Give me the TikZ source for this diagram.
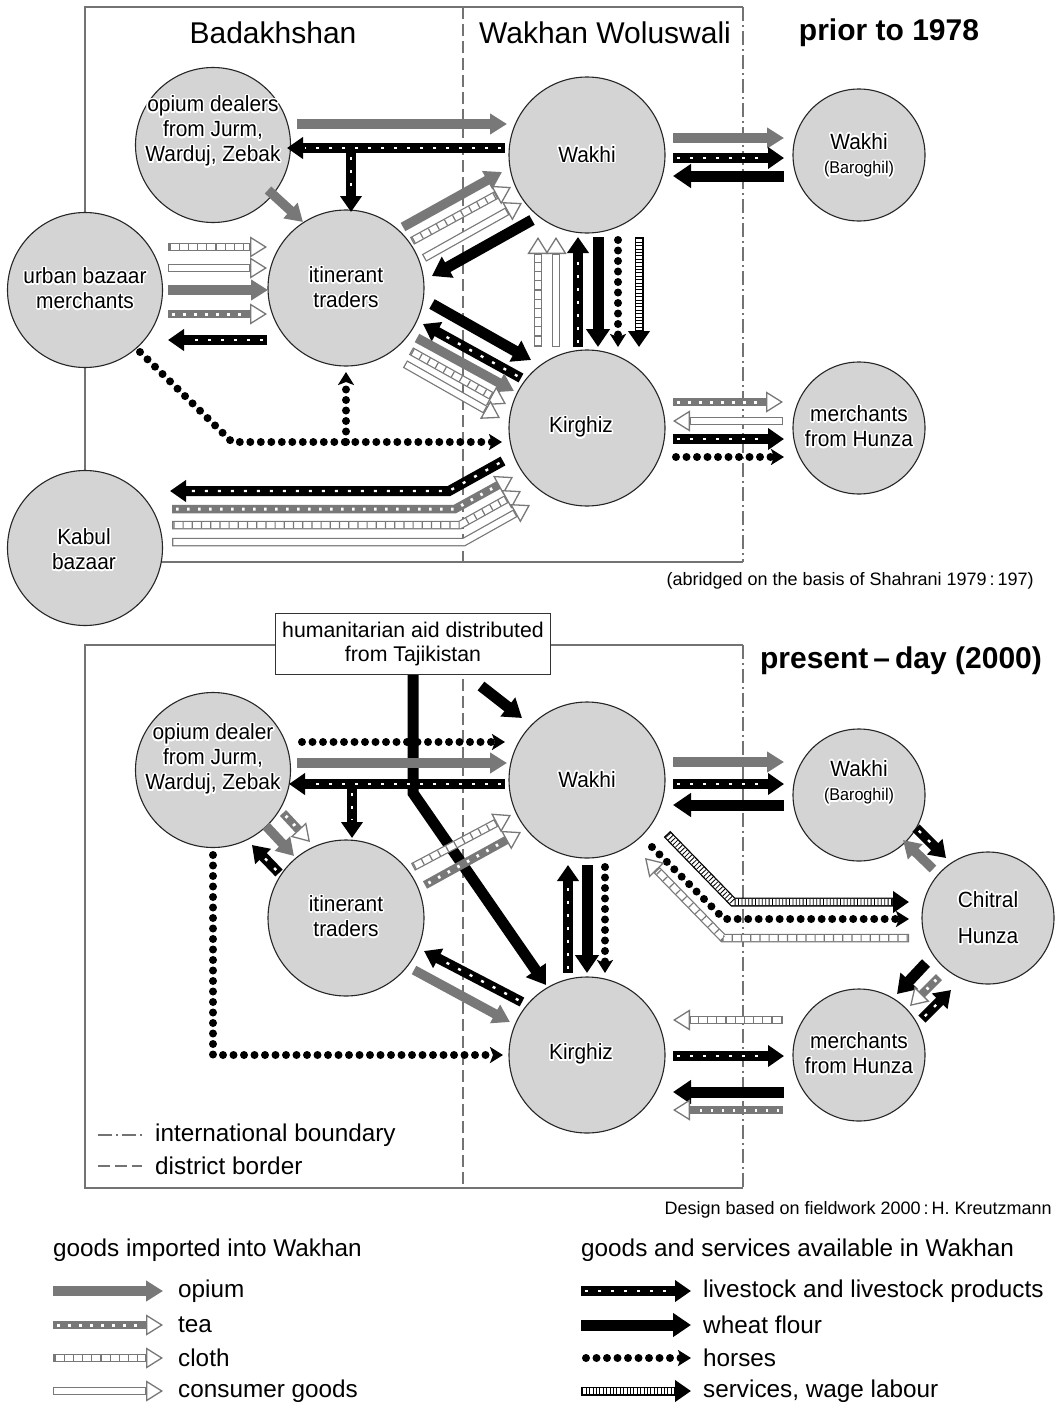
\documentclass[tikz,border=0pt]{standalone}
\usepackage{fontspec}
\setmainfont{Liberation Sans}
\newfontfamily\nar[FakeStretch=0.95]{Liberation Sans}
\usepackage{contour}
\contourlength{1.5pt}
\usetikzlibrary{arrows.meta}
\definecolor{opg}{gray}{0.47}
\definecolor{circf}{gray}{0.83}
\definecolor{frm}{gray}{0.45}
\newcommand\cw[1]{\contour{white}{#1}}
\begin{document}
\begin{tikzpicture}[x=1pt,y=-1pt,
  circ/.style={circle, draw=black!85, line width=1.1pt, fill=circf, inner sep=0pt, outer sep=0pt},
  lbl/.style={font=\nar\fontsize{22}{25}\selectfont, align=center, inner sep=0pt},
  ttl/.style={font=\fontsize{30}{34}\selectfont, inner sep=0pt},
  leg/.style={font=\fontsize{24.3}{27}\selectfont, inner sep=0pt, anchor=west},
  frame/.style={draw=frm, line width=1.1pt},
  intb/.style={draw=frm, line width=1.1pt, dash pattern=on 14pt off 4pt on 2pt off 4pt},
  distb/.style={draw=frm, line width=1.1pt, dash pattern=on 12pt off 5pt},
  opium/.style={draw=opg, line width=9.5pt, -{Triangle[length=17pt,width=20pt]}},
  tea/.style={draw=opg, line width=8.5pt, -{Triangle[length=17pt,width=21pt,fill=white,line width=1.3pt]},
     postaction={draw=white, -, solid, line width=3pt, dash pattern=on 2.5pt off 8.5pt, shorten >=20pt, shorten <=4pt}},
  consumer/.style={draw=opg, line width=8.5pt, -{Triangle[length=17pt,width=21pt,fill=white,line width=1.3pt]},
     postaction={draw=white, -, solid, line width=6pt, shorten >=18pt, shorten <=1.3pt}},
  cloth/.style={consumer, postaction={draw=opg, -, line width=6.2pt, dash pattern=on 1.2pt off 8pt, shorten >=18pt, shorten <=1.3pt}},
  stock/.style={draw=black, line width=10pt, -{Triangle[length=16pt,width=21pt]},
     postaction={draw=white, -, solid, line width=2.4pt, dash pattern=on 3pt off 10pt, shorten >=18pt, shorten <=4pt}},
  wheat/.style={draw=black, line width=11pt, -{Triangle[length=18pt,width=23pt]}},
  horse/.style={draw=black, line width=8pt, line cap=round, dash pattern=on 0pt off 10.5pt, -{Stealth[length=13pt,width=16pt,inset=3pt]}},
  serv/.style={draw=black, line width=9pt, -{Triangle[length=16pt,width=21pt]},
     postaction={draw=white, -, solid, line width=6.4pt, shorten >=17pt, shorten <=1.3pt},
     postaction={draw=black, -, line width=6.4pt, dash pattern=on 0.8pt off 2.6pt, shorten >=17pt, shorten <=1.3pt}}
]
\fill[white] (0,0) rectangle (1059,1408);
\useasboundingbox (0,0) rectangle (1059,1408);

% ---------------- frames ----------------
\draw[frame] (743,7) -- (85,7) -- (85,562) -- (743,562);
\draw[intb] (743,7) -- (743,562);
\draw[distb] (463,7) -- (463,562);
\draw[frame] (743,645) -- (85,645) -- (85,1188) -- (743,1188);
\draw[intb] (743,645) -- (743,1188);
\draw[distb] (463,645) -- (463,1188);

% ---------------- titles ----------------
\node[ttl] (t1) at (273,33) {Badakhshan};
\node[ttl] (t2) at (605,33) {Wakhan Woluswali};
\node[ttl, font=\fontsize{30}{34}\selectfont\bfseries] (t3) at (889,33) {prior to 1978};
\node[inner sep=0pt, anchor=east, font=\fontsize{18}{21}\selectfont] (src1) at (1034,581) {(abridged on the basis of Shahrani 1979\,:\,197)};
\node[ttl, font=\fontsize{30}{34}\selectfont\bfseries] (t4) at (901,661) {present\,--\,day (2000)};
\node[inner sep=0pt, anchor=east, font=\fontsize{18}{21}\selectfont] (src2) at (1052,1210) {Design based on fieldwork 2000\,:\,H. Kreutzmann};

% ---------------- circles (top) ----------------
\node[circ, minimum size=155pt] (od1) at (213,145) {};
\node[circ, minimum size=156pt] (wk1) at (587,155) {};
\node[circ, minimum size=132pt] (bg1) at (859,155) {};
\node[circ, minimum size=155pt] (ub1) at (85,290) {};
\node[circ, minimum size=156pt] (it1) at (346,288) {};
\node[circ, minimum size=156pt] (kg1) at (587,428) {};
\node[circ, minimum size=132pt] (mh1) at (859,428) {};
\node[circ, minimum size=155pt] (kb1) at (85,548) {};

% ---------------- circles (bottom) ----------------
\node[circ, minimum size=155pt] (od2) at (213,770) {};
\node[circ, minimum size=156pt] (wk2) at (587,780) {};
\node[circ, minimum size=132pt] (bg2) at (859,795) {};
\node[circ, minimum size=132pt] (ch2) at (988,918) {};
\node[circ, minimum size=156pt] (it2) at (346,918) {};
\node[circ, minimum size=156pt] (kg2) at (587,1055) {};
\node[circ, minimum size=132pt] (mh2) at (859,1055) {};

% humanitarian box
\node[draw=black!80, line width=1.1pt, fill=white, minimum width=275pt, minimum height=61pt, align=center,
      font=\fontsize{21.3}{24.5}\selectfont, inner sep=0pt] (hum) at (413,644)
      {humanitarian aid distributed\\from Tajikistan};

% ================= top arrows =================
\draw[opium] (297,124) -- (507,124);
\draw[stock] (351,153) -- (351,212);
\draw[stock] (505,148) -- (287,148);
\draw[opium] (268,190) -- (303,222);
% urban -> traders
\draw[cloth] (168,247) -- (267,247);
\draw[consumer] (168,268) -- (267,268);
\draw[opium] (168,290) -- (268,290);
\draw[tea] (168,314) -- (267,314);
\draw[stock] (267,340) -- (168,340);
% traders <-> Wakhi
\draw[opium] (403,227) -- (502,172);
\draw[cloth] (412,241) -- (511,187);
\draw[consumer] (424,258) -- (522,203);
\draw[wheat] (532,220) -- (432,276);
% traders <-> Kirghiz
\draw[wheat] (432,304) -- (531,360);
\draw[stock] (521,378) -- (423,324);
\draw[opium] (417,338) -- (514,391);
\draw[cloth] (411,351) -- (506,404);
\draw[consumer] (405,364) -- (500,418);
% Wakhi <-> Kirghiz
\draw[cloth] (538,347) -- (538,237);
\draw[consumer] (556,347) -- (556,237);
\draw[stock] (578,347) -- (578,237);
\draw[wheat] (598,237) -- (598,347);
\draw[horse] (618,240) -- (618,347);
\draw[serv] (639,237) -- (639,347);
% Wakhi <-> Baroghil
\draw[opium] (673,138) -- (784,138);
\draw[stock] (673,158) -- (784,158);
\draw[wheat] (784,176) -- (673,176);
% Kirghiz <-> merchants from Hunza
\draw[tea] (673,402) -- (783,402);
\draw[consumer] (783,421) -- (673,421);
\draw[stock] (673,439) -- (784,439);
\draw[horse] (676,457) -- (784,457);
% horses from urban bazaar
\draw[horse] (140,352) -- (232,442) -- (502,442);
\draw[horse] (346,442) -- (346,372);
% Kabul bazaar
\draw[stock] (503,461) -- (449,491) -- (170,491);
\draw[tea] (172,509) -- (455,509) -- (513,477);
\draw[cloth] (172,525) -- (460,525) -- (521,491);
\draw[consumer] (172,542) -- (464,542) -- (530,505);

% ================= bottom arrows =================
\draw[wheat] (hum.south -| 413,0) -- (413,793) -- (546,985);
\draw[wheat] (481,686) -- (522,718);
\draw[horse] (302,742) -- (505,742);
\draw[opium] (297,763) -- (507,763);
\draw[stock] (352,789) -- (352,838);
\draw[stock] (505,784) -- (289,784);
% dealer <-> traders
\draw[opium] (266,826) -- (294,856);
\draw[tea] (283,813) -- (310,842);
\draw[stock] (279,873) -- (252,845);
% traders -> Wakhi
\draw[cloth] (413,867) -- (511,815);
\draw[tea] (425,885) -- (521,832);
% Kirghiz <-> traders
\draw[stock] (522,1002) -- (424,951);
\draw[opium] (414,970) -- (510,1022);
% Wakhi <-> Kirghiz
\draw[stock] (568,973) -- (568,865);
\draw[wheat] (587,865) -- (587,973);
\draw[horse] (605,867) -- (605,973);
% Wakhi <-> Baroghil
\draw[opium] (673,762) -- (784,762);
\draw[stock] (673,784) -- (784,784);
\draw[wheat] (784,805) -- (673,805);
% Wakhi <-> Chitral
\draw[serv] (667,834) -- (733,902) -- (909,902);
\draw[horse] (652,847) -- (724,919) -- (909,919);
\draw[cloth] (909,938) -- (723,938) -- (645,858);
% Baroghil <-> Chitral
\draw[stock] (916,828) -- (946,858);
\draw[opium] (933,869) -- (903,840);
% Chitral <-> merchants
\draw[wheat] (926,963) -- (897,994);
\draw[tea] (939,977) -- (910,1006);
\draw[stock] (922,1019) -- (951,990);
% merchants <-> Kirghiz
\draw[cloth] (783,1020) -- (673,1020);
\draw[stock] (673,1056) -- (784,1056);
\draw[wheat] (784,1092) -- (673,1092);
\draw[tea] (783,1110) -- (673,1110);
% horses from dealer
\draw[horse] (213,855) -- (213,1055) -- (503,1055);

% ---------------- circle labels ----------------
\node[lbl] (od1t) at (213,132) {\cw{opium dealers}\\\cw{from Jurm,}\\\cw{Warduj, Zebak}};
\node[lbl] (wk1t) at (587,155) {\cw{Wakhi}};
\node[lbl] (bg1t) at (859,142) {\cw{Wakhi}};
\node[lbl, font=\nar\fontsize{17}{20}\selectfont] (bg1s) at (859,170) {\cw{(Baroghil)}};
\node[lbl] (ub1t) at (85,289) {\cw{urban bazaar}\\\cw{merchants}};
\node[lbl] (it1t) at (346,288) {\cw{itinerant}\\\cw{traders}};
\node[lbl] (kg1t) at (581,428) {\cw{Kirghiz}};
\node[lbl] (mh1t) at (859,427) {\cw{merchants}\\\cw{from Hunza}};
\node[lbl] (kb1t) at (84,550) {\cw{Kabul}\\\cw{bazaar}};

\node[lbl] (od2t) at (213,760) {\cw{opium dealer}\\\cw{from Jurm,}\\\cw{Warduj, Zebak}};
\node[lbl] (wk2t) at (587,780) {\cw{Wakhi}};
\node[lbl] (bg2t) at (859,769) {\cw{Wakhi}};
\node[lbl, font=\nar\fontsize{17}{20}\selectfont] (bg2s) at (859,797) {\cw{(Baroghil)}};
\node[lbl] (ch2t) at (988,900) {\cw{Chitral}};
\node[lbl] (ch2s) at (988,937) {\cw{Hunza}};
\node[lbl] (it2t) at (346,917) {\cw{itinerant}\\\cw{traders}};
\node[lbl] (kg2t) at (581,1055) {\cw{Kirghiz}};
\node[lbl] (mh2t) at (859,1054) {\cw{merchants}\\\cw{from Hunza}};

% ---------------- boundary legend ----------------
\coordinate (ib1) at (98,1135); \coordinate (ib2) at (142,1135);
\coordinate (db1) at (98,1166); \coordinate (db2) at (142,1166);
\draw[intb] (ib1) -- (ib2);
\draw[distb] (db1) -- (db2);
\node[leg] (ibt) at (155,1135) {international boundary};
\node[leg] (dbt) at (155,1166) {district border};

% ---------------- bottom legend ----------------
\node[leg] (lh1) at (53,1250) {goods imported into Wakhan};
\node[leg] (lh2) at (581,1250) {goods and services available in Wakhan};
\draw[opium] (53,1291) -- (163,1291);
\draw[tea] (53,1325) -- (163,1325);
\draw[cloth] (53,1358) -- (163,1358);
\draw[consumer] (53,1391) -- (163,1391);
\node[leg] (l1) at (178,1291) {opium};
\node[leg] (l2) at (178,1325) {tea};
\node[leg] (l3) at (178,1358) {cloth};
\node[leg] (l4) at (178,1391) {consumer goods};
\draw[stock] (581,1291) -- (691,1291);
\draw[wheat] (581,1325) -- (691,1325);
\draw[horse] (586,1358) -- (691,1358);
\draw[serv] (581,1391) -- (691,1391);
\node[leg] (r1) at (703,1291) {livestock and livestock products};
\node[leg] (r2) at (703,1325) {wheat flour};
\node[leg] (r3) at (703,1358) {horses};
\node[leg] (r4) at (703,1391) {services, wage labour};
\end{tikzpicture}
\end{document}
